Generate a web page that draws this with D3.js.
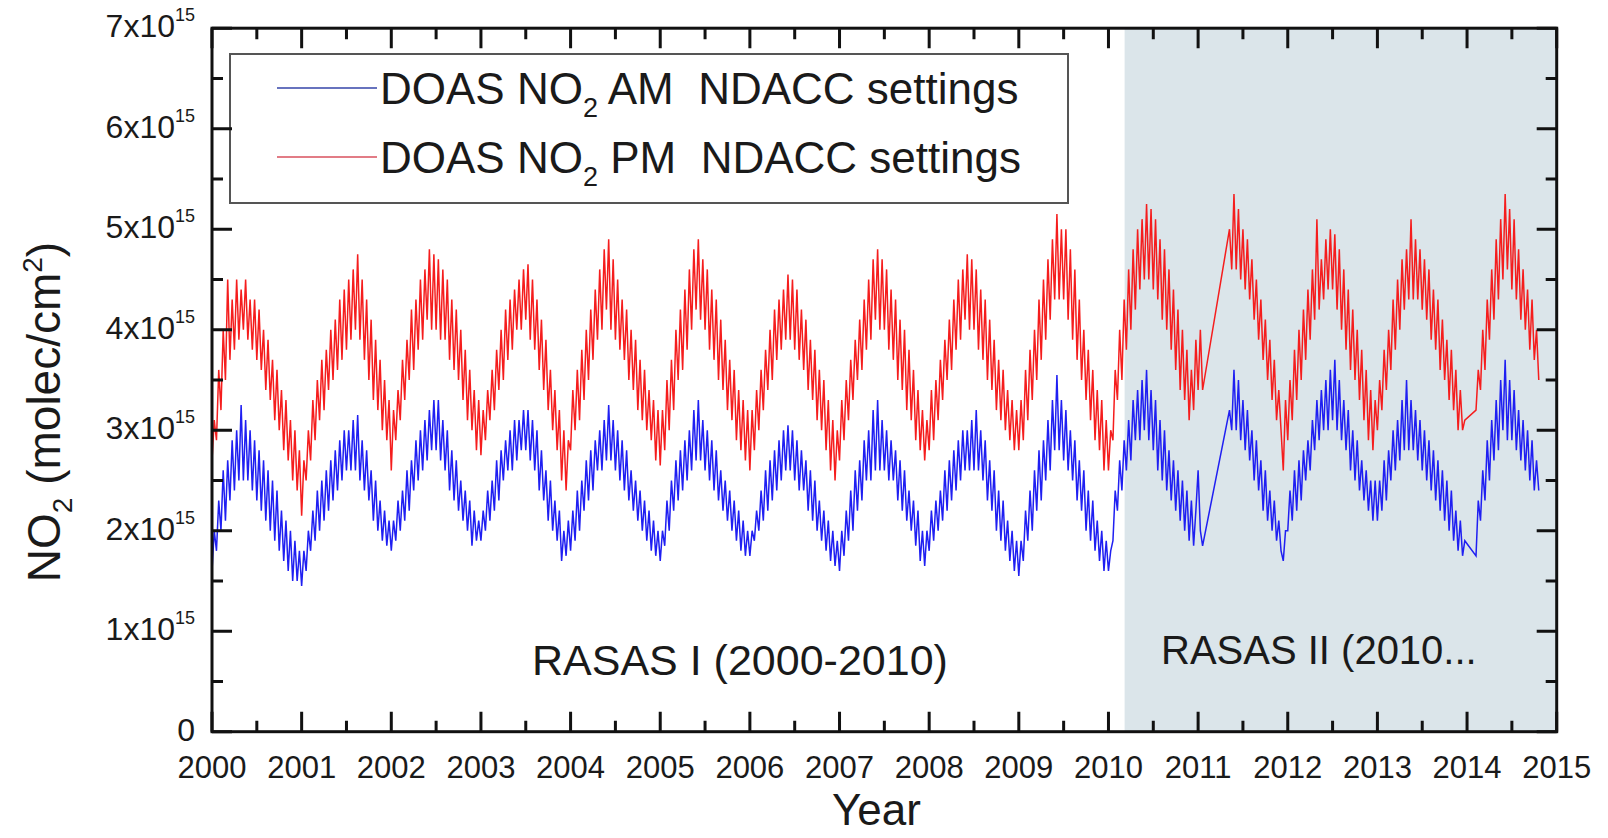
<!DOCTYPE html>
<html><head><meta charset="utf-8">
<script src="https://cdn.jsdelivr.net/npm/d3@7"></script>
<style>
html,body{margin:0;padding:0;background:#fff;}
text{font-family:"Liberation Sans",Arial,Helvetica,sans-serif;fill:#1a1a1a;}
</style>
</head><body>
<svg id="chart" width="1608" height="838"></svg>
<script>
// ---- data (values in units of 1e15 molec/cm2), sampled every 0.025 yr from 2000.0; null = no data ----
const startYear = 2000;
const stepYears = 0.025;
const pmValues = [
 // 2000
 2.7,3.1,2.9,3.6, 3.2,4.0,3.5,4.5, 3.7,4.3,3.8,4.5, 3.9,4.4,4.0,4.5, 3.9,4.3,3.8,4.3,
 3.7,4.2,3.6,4.0, 3.4,3.9,3.3,3.7, 3.1,3.6,3.0,3.4, 2.8,3.3,2.7,3.1, 2.5,3.0,2.4,2.8,
 // 2001
 2.15,2.7,2.5,3.0, 2.7,3.3,2.9,3.5, 3.1,3.7,3.2,3.8, 3.4,4.0,3.5,4.1, 3.6,4.3,3.7,4.4,
 3.8,4.5,3.9,4.6, 4.0,4.75,3.9,4.5, 3.7,4.3,3.5,4.1, 3.3,3.9,3.2,3.7, 3.0,3.5,2.9,3.3,
 // 2002
 2.6,3.2,2.9,3.4, 3.1,3.7,3.3,3.9, 3.5,4.2,3.6,4.3, 3.8,4.5,3.9,4.6, 4.1,4.8,4.0,4.75,
 4.0,4.7,3.9,4.6, 3.9,4.5,3.7,4.3, 3.6,4.2,3.5,4.0, 3.3,3.8,3.1,3.6, 3.0,3.4,2.8,3.3,
 // 2003
 2.75,3.2,2.9,3.4, 3.1,3.6,3.2,3.8, 3.4,4.0,3.5,4.2, 3.7,4.3,3.8,4.4, 4.0,4.5,4.0,4.6,
 4.1,4.65,3.9,4.5, 3.8,4.3,3.6,4.1, 3.4,3.9,3.2,3.6, 3.0,3.4,2.8,3.2, 2.5,3.0,2.4,2.9,
 // 2004
 2.8,3.4,3.0,3.6, 3.1,3.8,3.3,4.0, 3.5,4.2,3.7,4.4, 3.9,4.6,4.0,4.8, 4.2,4.9,4.0,4.7,
 3.9,4.5,3.8,4.3, 3.7,4.2,3.5,4.0, 3.4,3.9,3.2,3.7, 3.1,3.6,3.0,3.4, 2.9,3.3,2.7,3.2,
 // 2005
 2.65,3.2,2.8,3.5, 3.0,3.7,3.2,4.0, 3.5,4.2,3.6,4.4, 3.8,4.6,4.0,4.8, 4.2,4.9,4.1,4.7,
 4.0,4.6,3.8,4.4, 3.7,4.3,3.5,4.1, 3.4,3.9,3.2,3.7, 3.1,3.6,2.9,3.4, 2.8,3.3,2.7,3.2,
 // 2006
 2.6,3.2,2.8,3.4, 3.0,3.6,3.2,3.8, 3.4,4.0,3.5,4.2, 3.7,4.3,3.8,4.4, 3.9,4.55,3.9,4.5,
 3.8,4.4,3.7,4.2, 3.6,4.1,3.4,3.9, 3.3,3.8,3.1,3.6, 3.0,3.5,2.8,3.3, 2.6,3.1,2.5,3.0,
 // 2007
 2.7,3.3,2.9,3.5, 3.1,3.7,3.3,3.9, 3.5,4.1,3.6,4.3, 3.8,4.5,3.9,4.7, 4.1,4.8,4.0,4.7,
 4.0,4.6,3.8,4.4, 3.7,4.3,3.5,4.1, 3.4,4.0,3.2,3.8, 3.1,3.6,2.9,3.4, 2.8,3.2,2.7,3.1,
 // 2008
 2.8,3.4,2.9,3.5, 3.1,3.7,3.3,3.9, 3.5,4.1,3.6,4.3, 3.8,4.5,3.9,4.6, 4.1,4.75,4.0,4.7,
 4.0,4.6,3.8,4.4, 3.7,4.3,3.5,4.1, 3.4,3.9,3.2,3.7, 3.1,3.6,3.0,3.4, 2.9,3.3,2.8,3.2,
 // 2009
 2.8,3.3,2.9,3.6, 3.1,3.8,3.3,4.0, 3.5,4.3,3.7,4.5, 3.9,4.7,4.1,4.9, 4.3,5.15,4.3,5.0,
 4.3,5.0,4.1,4.8, 3.9,4.6,3.7,4.3, 3.5,4.0,3.3,3.8, 3.1,3.6,2.9,3.4, 2.8,3.3,2.6,3.1,
 // 2010
 2.6,3.0,2.9,3.6, 3.3,4.0,3.5,4.3, 3.8,4.6,4.0,4.8, 4.2,5.0,4.4,5.1, 4.5,5.25,4.5,5.2,
 4.4,5.1,4.3,4.9, 4.1,4.8,4.0,4.6, 3.8,4.4,3.6,4.2, 3.4,4.0,3.3,3.8, 3.1,3.6,3.2,3.9,
 // 2011
 3.4,4.0,3.4,null, null,null,null,null, null,null,null,null, null,null,5.0,4.6, 5.35,4.6,5.2,4.5,
 5.0,4.4,4.9,4.3, 4.7,4.1,4.5,3.9, 4.3,3.7,4.1,3.5, 3.9,3.3,3.7,3.1, 3.4,3.0,2.6,3.3,
 // 2012
 2.9,3.5,3.1,3.8, 3.3,4.0,3.5,4.2, 3.7,4.4,3.9,4.6, 4.1,5.1,4.2,4.7, 4.3,4.9,4.4,5.0,
 4.4,4.95,4.2,4.8, 4.0,4.6,3.8,4.4, 3.6,4.2,3.5,4.0, 3.3,3.8,3.1,3.6, 2.9,3.4,2.8,3.3,
 // 2013
 3.0,3.5,3.2,3.8, 3.4,4.0,3.6,4.3, 3.8,4.5,4.0,4.7, 4.2,4.8,4.3,5.1, 4.3,4.9,4.3,4.8,
 4.2,4.7,4.1,4.6, 3.9,4.4,3.8,4.3, 3.6,4.1,3.5,3.9, 3.3,3.8,3.2,3.6, 3.0,3.4,3.0,3.1,
 // 2014
 null,null,null,null, 3.2,3.6,3.4,4.0, 3.6,4.3,3.9,4.6, 4.1,4.9,4.3,5.1, 4.5,5.35,4.6,5.2,
 4.4,5.1,4.3,4.8, 4.1,4.6,4.0,4.4, 3.8,4.3,3.7,4.0, 3.5
];
const amValues = [
 // 2000
 1.6,2.0,1.8,2.3, 2.0,2.6,2.1,2.7, 2.3,2.9,2.4,3.0, 2.5,3.25,2.5,3.1, 2.5,3.0,2.4,2.9,
 2.3,2.8,2.2,2.7, 2.1,2.6,2.0,2.5, 1.9,2.4,1.8,2.2, 1.7,2.1,1.6,2.0, 1.5,1.9,1.5,1.8,
 // 2001
 1.45,1.8,1.6,2.0, 1.8,2.2,1.9,2.4, 2.0,2.5,2.1,2.6, 2.2,2.7,2.3,2.8, 2.4,2.9,2.5,3.0,
 2.6,3.0,2.6,3.1, 2.6,3.15,2.5,2.9, 2.4,2.8,2.3,2.6, 2.1,2.5,2.0,2.3, 1.9,2.2,1.85,2.1,
 // 2002
 1.8,2.1,1.9,2.3, 2.0,2.4,2.1,2.6, 2.2,2.7,2.4,2.9, 2.5,3.0,2.6,3.1, 2.7,3.2,2.8,3.3,
 2.8,3.3,2.7,3.1, 2.6,3.0,2.4,2.8, 2.3,2.7,2.2,2.5, 2.1,2.4,2.0,2.3, 1.85,2.2,1.9,2.1,
 // 2003
 1.9,2.2,2.0,2.4, 2.1,2.5,2.2,2.7, 2.3,2.8,2.5,2.9, 2.6,3.0,2.6,3.1, 2.7,3.1,2.8,3.2,
 2.8,3.2,2.7,3.1, 2.6,3.0,2.4,2.8, 2.3,2.6,2.1,2.5, 2.0,2.3,1.9,2.2, 1.7,2.0,1.75,2.1,
 // 2004
 1.8,2.2,1.9,2.4, 2.0,2.5,2.2,2.7, 2.3,2.8,2.4,2.9, 2.6,3.0,2.6,3.1, 2.7,3.25,2.7,3.1,
 2.6,3.0,2.5,2.9, 2.4,2.8,2.3,2.6, 2.2,2.5,2.1,2.4, 2.0,2.3,1.9,2.2, 1.8,2.1,1.75,2.0,
 // 2005
 1.7,2.0,1.85,2.3, 2.0,2.5,2.2,2.7, 2.3,2.8,2.4,2.9, 2.5,3.0,2.6,3.2, 2.7,3.3,2.7,3.1,
 2.6,3.0,2.5,2.9, 2.4,2.8,2.3,2.6, 2.2,2.5,2.1,2.4, 2.0,2.3,1.9,2.2, 1.8,2.1,1.75,2.0,
 // 2006
 1.75,2.0,1.9,2.2, 2.0,2.4,2.1,2.6, 2.2,2.7,2.3,2.8, 2.4,2.9,2.5,3.0, 2.6,3.05,2.6,3.0,
 2.5,2.9,2.4,2.8, 2.4,2.7,2.2,2.6, 2.1,2.5,2.0,2.3, 1.9,2.2,1.8,2.1, 1.7,2.0,1.65,1.9,
 // 2007
 1.6,2.0,1.75,2.2, 1.9,2.4,2.0,2.6, 2.2,2.7,2.3,2.9, 2.5,3.0,2.5,3.2, 2.6,3.3,2.6,3.1,
 2.6,3.0,2.5,2.9, 2.5,2.8,2.3,2.7, 2.2,2.6,2.1,2.4, 2.0,2.3,1.85,2.2, 1.7,2.0,1.65,2.0,
 // 2008
 1.8,2.2,1.9,2.3, 2.0,2.4,2.1,2.6, 2.2,2.7,2.3,2.8, 2.4,2.9,2.5,3.0, 2.6,3.0,2.6,3.1,
 2.6,3.2,2.6,3.0, 2.5,2.9,2.3,2.7, 2.2,2.6,2.0,2.4, 1.9,2.3,1.8,2.1, 1.7,2.0,1.6,1.9,
 // 2009
 1.55,1.9,1.7,2.2, 1.9,2.4,2.0,2.6, 2.2,2.8,2.3,2.9, 2.5,3.1,2.6,3.3, 2.8,3.55,2.8,3.3,
 2.7,3.2,2.6,3.0, 2.5,2.9,2.3,2.7, 2.2,2.6,2.0,2.4, 1.9,2.3,1.8,2.1, 1.7,2.0,1.6,1.9,
 // 2010
 1.6,1.8,1.9,2.4, 2.2,2.7,2.4,2.9, 2.6,3.1,2.7,3.3, 2.9,3.4,2.9,3.5, 3.0,3.6,2.9,3.4,
 2.8,3.3,2.6,3.1, 2.5,3.0,2.4,2.8, 2.3,2.7,2.2,2.6, 2.1,2.5,2.0,2.4, 1.9,2.3,1.85,2.2,
 // 2011
 2.6,2.0,1.85,null, null,null,null,null, null,null,null,null, null,null,3.2,3.0, 3.6,3.0,3.5,2.9,
 3.3,2.8,3.2,2.7, 3.0,2.5,2.9,2.4, 2.7,2.2,2.6,2.1, 2.4,2.0,2.3,1.9, 2.1,1.8,1.7,2.0,
 // 2012
 2.0,2.4,2.1,2.6, 2.2,2.7,2.3,2.8, 2.5,2.9,2.6,3.1, 2.8,3.3,2.9,3.4, 3.0,3.5,3.0,3.6,
 3.1,3.7,3.0,3.5, 2.9,3.3,2.8,3.2, 2.6,3.0,2.5,2.9, 2.4,2.7,2.3,2.6, 2.2,2.5,2.1,2.5,
 // 2013
 2.1,2.5,2.2,2.7, 2.3,2.8,2.5,3.0, 2.6,3.1,2.7,3.3, 2.8,3.5,2.8,3.3, 2.8,3.2,2.7,3.1,
 2.6,3.0,2.5,2.9, 2.4,2.8,2.3,2.7, 2.2,2.6,2.1,2.5, 2.0,2.4,1.9,2.2, 1.8,2.1,1.75,1.9,
 // 2014
 null,null,null,null, 1.75,2.3,2.1,2.6, 2.3,2.9,2.5,3.1, 2.7,3.3,2.8,3.5, 3.0,3.7,2.9,3.5,
 2.9,3.4,2.8,3.2, 2.7,3.1,2.6,3.0, 2.5,2.9,2.4,2.7, 2.4
];
const xTickYears = [2000,2001,2002,2003,2004,2005,2006,2007,2008,2009,2010,2011,2012,2013,2014,2015];
const xMinorYears = [2000.5,2001.5,2002.5,2003.5,2004.5,2005.5,2006.5,2007.5,2008.5,2009.5,2010.5,2011.5,2012.5,2013.5,2014.5];
const yTickValues = [0,1,2,3,4,5,6,7];
const yMinorValues = [0.5,1.5,2.5,3.5,4.5,5.5,6.5];
const yTickMantissa = ["0","1x10","2x10","3x10","4x10","5x10","6x10","7x10"];
const yTickExponent = ["","15","15","15","15","15","15","15"];
const periods = [{start:2010.18, end:2015}];
const seriesNames = [
  {pre:"DOAS NO", sub:"2", post:" AM\u00a0\u00a0NDACC settings"},
  {pre:"DOAS NO", sub:"2", post:" PM\u00a0\u00a0NDACC settings"}
];

// ---- layout ----
const svg = d3.select("#chart");
const L = 212, R = 1556.7, T = 28.2, B = 731.7;
const xs = d3.scaleLinear().domain([2000, 2015]).range([L, R]);
const ys = d3.scaleLinear().domain([0, 7]).range([B, T]);

svg.append("rect").attr("width",1608).attr("height",838).attr("fill","#fff");

// shaded period
svg.selectAll("rect.period").data(periods).enter().append("rect")
  .attr("class","period")
  .attr("x", d => xs(d.start)).attr("y", T)
  .attr("width", d => xs(d.end) - xs(d.start)).attr("height", B - T)
  .attr("fill", "#dbe5ea");

// series
function toPoints(vals){
  return vals.map((v,i) => ({t: startYear + i*stepYears, v})).filter(d => d.v !== null);
}
const line = d3.line().x(d => xs(d.t)).y(d => ys(d.v));
svg.append("path").datum(toPoints(pmValues)).attr("d", line)
  .attr("fill","none").attr("stroke","#f51d1d").attr("stroke-width",1.5);
svg.append("path").datum(toPoints(amValues)).attr("d", line)
  .attr("fill","none").attr("stroke","#1f1ff2").attr("stroke-width",1.5);

// legend
svg.append("rect").attr("x",230).attr("y",54).attr("width",838).attr("height",149)
  .attr("fill","#fff").attr("stroke","#555").attr("stroke-width",2);
const legColors = ["#3444a8","#d8505e"];
const legY = [88, 157];
seriesNames.forEach((s,i) => {
  svg.append("line").attr("x1",277).attr("x2",377).attr("y1",legY[i]).attr("y2",legY[i])
    .attr("stroke",legColors[i]).attr("stroke-width",1.6);
  const t = svg.append("text").attr("x",380).attr("y",legY[i]+15.5).attr("font-size",44);
  t.append("tspan").text(s.pre);
  t.append("tspan").attr("dy",13).attr("font-size",27).text(s.sub);
  t.append("tspan").attr("dy",-13).text(s.post);
});

// inward ticks: one path built from the scales
const tp = d3.path();
function xTicks(vals, len){
  vals.forEach(v => {
    tp.moveTo(xs(v), B); tp.lineTo(xs(v), B - len);
    tp.moveTo(xs(v), T); tp.lineTo(xs(v), T + len);
  });
}
function yTicks(vals, len){
  vals.forEach(v => {
    tp.moveTo(L, ys(v)); tp.lineTo(L + len, ys(v));
    tp.moveTo(R, ys(v)); tp.lineTo(R - len, ys(v));
  });
}
xTicks(xTickYears, 20); xTicks(xMinorYears, 11);
yTicks(yTickValues, 20); yTicks(yMinorValues, 11);
svg.append("path").attr("d", tp.toString()).attr("fill","none")
  .attr("stroke","#111").attr("stroke-width",3);

// frame
svg.append("rect").attr("x",L).attr("y",T).attr("width",R-L).attr("height",B-T)
  .attr("fill","none").attr("stroke","#111").attr("stroke-width",3);

// x tick labels
svg.selectAll("text.xl").data(xTickYears).enter().append("text")
  .attr("class","xl").attr("x", d => xs(d)).attr("y", 778)
  .attr("text-anchor","middle").attr("font-size",31).text(d => String(d));

// y tick labels
yTickValues.forEach((v,i) => {
  const t = svg.append("text").attr("x",195).attr("y", ys(v)+9)
    .attr("text-anchor","end").attr("font-size",32).text(yTickMantissa[i]);
  if (yTickExponent[i]) t.append("tspan").attr("dy",-16).attr("font-size",18).text(yTickExponent[i]);
});

// axis titles
svg.append("text").attr("x", (L+R)/2 - 8).attr("y", 825).attr("text-anchor","middle")
  .attr("font-size",44).text("Year");
const yt = svg.append("text").attr("transform","translate(60,412) rotate(-90)")
  .attr("text-anchor","middle").attr("font-size",46);
yt.append("tspan").text("NO");
yt.append("tspan").attr("dy",12).attr("font-size",28).text("2");
yt.append("tspan").attr("dy",-12).text(" (molec/cm");
yt.append("tspan").attr("dy",-18).attr("font-size",28).text("2");
yt.append("tspan").attr("dy",18).text(")");

// period annotations
svg.append("text").attr("x",532).attr("y",675).attr("font-size",43).text("RASAS I (2000-2010)");
svg.append("text").attr("x",1161).attr("y",664).attr("font-size",40).text("RASAS II (2010...");
</script>
</body></html>
